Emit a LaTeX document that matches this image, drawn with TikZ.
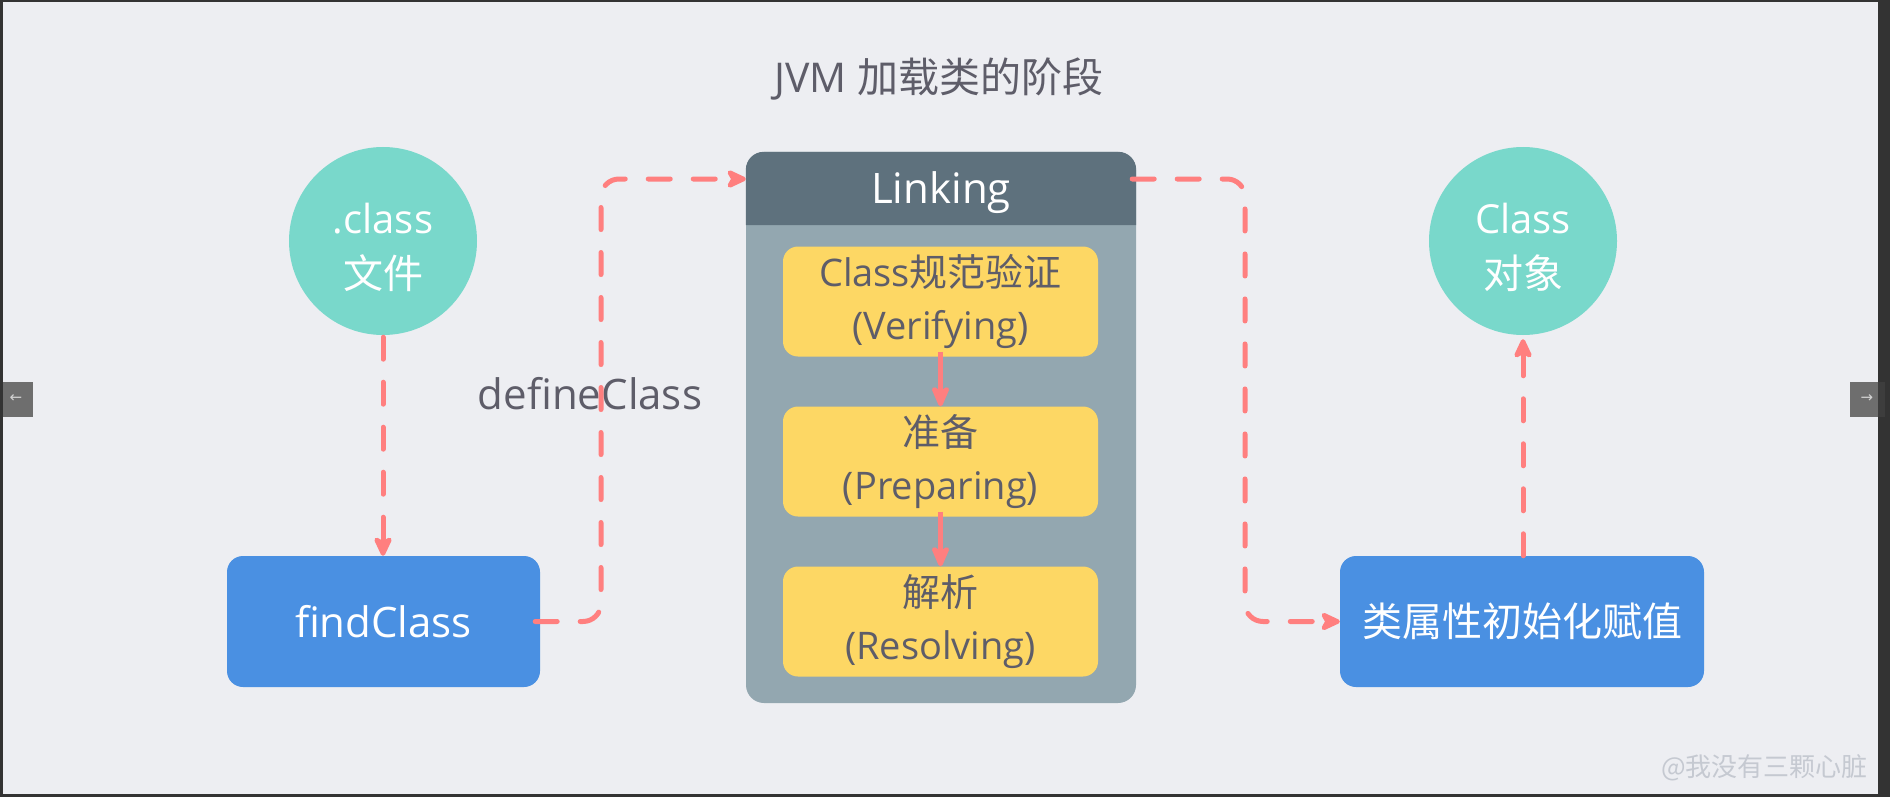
\documentclass[tikz,border=0pt]{standalone}
\usepackage{fontspec}
\setmainfont{Open Sans}
\newfontfamily\cjk{Noto Sans CJK SC}
\newfontfamily\dejavu{DejaVu Sans}
\usetikzlibrary{arrows.meta,calc}
\definecolor{bgc}{HTML}{EDEEF2}
\definecolor{frame}{HTML}{333333}
\definecolor{teal1}{HTML}{79D8CB}
\definecolor{blue1}{HTML}{4A90E2}
\definecolor{hdr}{HTML}{5E717D}
\definecolor{body}{HTML}{93A7B0}
\definecolor{yel}{HTML}{FDD764}
\definecolor{red1}{HTML}{FF7F7F}
\definecolor{txt}{HTML}{5E5D69}
\definecolor{wmark}{HTML}{C5C9D1}
\definecolor{btn}{HTML}{6E6E6E}
\definecolor{btnd}{HTML}{3D3D3D}
\definecolor{btnarrow}{HTML}{D2D2D2}
\begin{document}
\begin{tikzpicture}[x=1pt,y=-1pt,
  circ/.style={circle, fill=teal1, minimum size=188pt, inner sep=0pt},
  circtext/.style={text=white, align=center, inner sep=0pt, font=\fontsize{40}{55}\selectfont},
  bluebox/.style={rectangle, rounded corners=16pt, fill=blue1, text=white, minimum height=131pt, inner sep=0pt, font=\fontsize{42}{50}\selectfont},
  ybox/.style={rectangle, rounded corners=15pt, fill=yel, text=txt, minimum width=315pt, minimum height=110pt, align=center, inner sep=0pt, font=\fontsize{38}{53}\selectfont},
  linkbox/.style={rectangle, rounded corners=18pt, fill=body, minimum width=390pt, minimum height=551pt, inner sep=0pt},
  dashline/.style={draw=red1, line width=5pt, dash pattern=on 22pt off 23pt, line cap=round, rounded corners=18pt},
  solidline/.style={draw=red1, line width=4.5pt},
  tipa/.style={-{Stealth[length=26pt,width=22pt,inset=7pt,round]}},
  tipb/.style={-{Stealth[length=24pt,width=22pt,inset=6pt,round]}},
  plain/.style={text=txt, inner sep=0pt}
]
% frame and background
\fill[frame] (0,0) rectangle (1890,797);
\fill[bgc] (3,2) rectangle (1878,794);
\useasboundingbox (0,0) rectangle (1890,797);

% side buttons
\fill[btn] (3,382) rectangle (33,417);
\node[text=btnarrow, inner sep=0pt, font=\dejavu\fontsize{15}{15}\selectfont] (lbtn) at (16,399) {←};
\fill[btn] (1850,382) rectangle (1878,417);
\fill[btnd] (1878,382) rectangle (1885,417);
\node[text=btnarrow, inner sep=0pt, font=\dejavu\fontsize{15}{15}\selectfont] (rbtn) at (1867,399) {→};

% title
\node[plain, font=\fontsize{41}{48}\selectfont] (title) at (939,79) {JVM {\cjk 加载类的阶段}};

% circles
\node[circ] (c1) at (383,241) {};
\node[circtext] (c1t) at ([yshift=-6pt]c1.center) {.class\\{\cjk 文件}};
\node[circ] (c2) at (1523,241) {};
\node[circtext] (c2t) at ([yshift=-6pt]c2.center) {Class\\{\cjk 对象}};

% blue boxes
\node[bluebox, minimum width=313pt] (fc) at (383.5,621.5) {findClass};
\node[bluebox, minimum width=364pt, font=\cjk\fontsize{40}{48}\selectfont] (attr) at (1522,621.5) {类属性初始化赋值};

% Linking container
\node[linkbox] (link) at (941,427.5) {};
\coordinate (hb) at (941,225);
\fill[hdr] (link.west |- hb) [rounded corners=18pt] -- (link.north west) -- (link.north east) [sharp corners] -- (link.east |- hb) -- cycle;
\node[text=white, inner sep=0pt, font=\fontsize{42}{48}\selectfont] (lt) at (941,193) {Linking};

% yellow boxes
\node[ybox] (y1) at (940.5,301.5) {Class{\cjk 规范验证}\\(Verifying)};
\node[ybox] (y2) at (940.5,461.5) {{\cjk 准备}\\(Preparing)};
\node[ybox] (y3) at (940.5,621.5) {{\cjk 解析}\\(Resolving)};

\draw[solidline, tipa] ([yshift=5pt]y1.south) -- (y2.north);
\draw[solidline, tipa] ([yshift=5pt]y2.south) -- (y3.north);

% defineClass label
\node[plain, font=\fontsize{42}{50}\selectfont] (dc) at (590,394) {defineClass};

% watermark
\node[text=wmark, inner sep=0pt, anchor=east, font=\cjk\fontsize{26}{30}\selectfont] (wm) at (1868,768) {@我没有三颗心脏};

% connectors
\coordinate (d1) at (601,179);
\coordinate (d2) at (1245,179);
\draw[dashline, tipb] ([xshift=-5pt]fc.east) -| (d1) -- (d1 -| link.west);
\draw[dashline, tipb] ([xshift=-4pt]d2 -| link.east) -- (d2) |- (attr.west);
\draw[dashline, tipb] ([yshift=-2pt]c1.south) -- (c1.south |- fc.north);
\draw[dashline, tipb] (c2.south |- attr.north) -- ([yshift=-4pt]c2.south);
\end{tikzpicture}
\end{document}
